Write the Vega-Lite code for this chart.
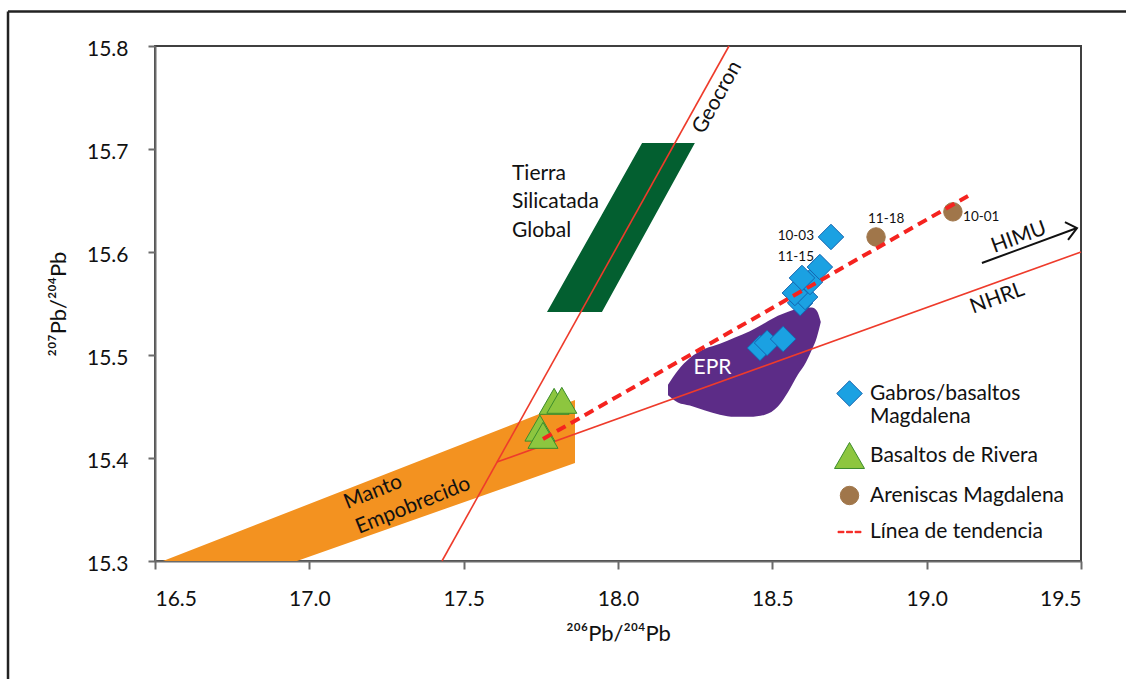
{
  "$schema": "https://vega.github.io/schema/vega-lite/v6.json",
  "width": 926,
  "height": 515,
  "autosize": "none",
  "padding": {"left": 155, "top": 46, "right": 45, "bottom": 118},
  "background": "white",
  "config": {
    "view": {"stroke": "#404040", "strokeWidth": 2},
    "font": "Lato",
    "axis": {
      "grid": false,
      "domainColor": "#6b6b6b",
      "domainWidth": 2,
      "tickColor": "#6b6b6b",
      "tickWidth": 2,
      "labelFont": "Lato",
      "labelFontSize": 21,
      "labelColor": "#111111",
      "titleFont": "Lato",
      "titleFontSize": 22,
      "titleFontWeight": "normal",
      "titleColor": "#111111"
    }
  },
  "datasets": {
    "frame": [
      {"x": 16.0238, "x2": 16.0238, "y": 15.18, "y2": 15.8335},
      {"x": 16.0238, "x2": 19.66, "y": 15.8335, "y2": 15.8335}
    ],
    "dm": [
      {"x": 16.526, "y": 15.3, "y2": 15.3},
      {"x": 16.96, "y": 15.3, "y2": 15.3508},
      {"x": 17.8607, "y": 15.3951, "y2": 15.4563}
    ],
    "bse": [
      {"x": 17.770, "y": 15.5417, "y2": 15.5417},
      {"x": 17.948, "y": 15.5417, "y2": 15.6365},
      {"x": 18.078, "y": 15.6126, "y2": 15.7058},
      {"x": 18.249, "y": 15.7058, "y2": 15.7058}
    ],
    "epr": [
      {"x": 18.162, "y": 15.471, "y2": 15.461},
      {"x": 18.194, "y": 15.485, "y2": 15.454},
      {"x": 18.233, "y": 15.497, "y2": 15.451},
      {"x": 18.282, "y": 15.506, "y2": 15.446},
      {"x": 18.330, "y": 15.511, "y2": 15.442},
      {"x": 18.379, "y": 15.517, "y2": 15.440},
      {"x": 18.427, "y": 15.523, "y2": 15.440},
      {"x": 18.476, "y": 15.531, "y2": 15.442},
      {"x": 18.518, "y": 15.538, "y2": 15.450},
      {"x": 18.551, "y": 15.542, "y2": 15.464},
      {"x": 18.583, "y": 15.545, "y2": 15.481},
      {"x": 18.609, "y": 15.546, "y2": 15.493},
      {"x": 18.628, "y": 15.546, "y2": 15.505},
      {"x": 18.644, "y": 15.543, "y2": 15.517},
      {"x": 18.657, "y": 15.532, "y2": 15.532}
    ],
    "ref": [
      {"line": "Geocron", "x": 17.4298, "y": 15.3},
      {"line": "Geocron", "x": 18.3596, "y": 15.8},
      {"line": "NHRL", "x": 17.608, "y": 15.396},
      {"line": "NHRL", "x": 19.5, "y": 15.6}
    ],
    "trend": [
      {"x": 17.757, "y": 15.4184},
      {"x": 19.134, "y": 15.6544}
    ],
    "arrow": [
      {"part": "shaft", "o": 1, "x": 19.179, "y": 15.5893},
      {"part": "shaft", "o": 2, "x": 19.487, "y": 15.6233},
      {"part": "head", "o": 1, "x": 19.448, "y": 15.6291},
      {"part": "head", "o": 2, "x": 19.487, "y": 15.6233},
      {"part": "head", "o": 3, "x": 19.458, "y": 15.6117}
    ],
    "pts": [
      {"series": "Gabros/basaltos Magdalena", "x": 18.460, "y": 15.5068},
      {"series": "Gabros/basaltos Magdalena", "x": 18.483, "y": 15.5117},
      {"series": "Gabros/basaltos Magdalena", "x": 18.535, "y": 15.5155},
      {"series": "Gabros/basaltos Magdalena", "x": 18.590, "y": 15.5505},
      {"series": "Gabros/basaltos Magdalena", "x": 18.606, "y": 15.5563},
      {"series": "Gabros/basaltos Magdalena", "x": 18.573, "y": 15.5602},
      {"series": "Gabros/basaltos Magdalena", "x": 18.622, "y": 15.5709},
      {"series": "Gabros/basaltos Magdalena", "x": 18.596, "y": 15.5748},
      {"series": "Gabros/basaltos Magdalena", "x": 18.654, "y": 15.5854},
      {"series": "Gabros/basaltos Magdalena", "x": 18.690, "y": 15.6146},
      {"series": "Basaltos de Rivera", "x": 17.793, "y": 15.455},
      {"series": "Basaltos de Rivera", "x": 17.818, "y": 15.456},
      {"series": "Basaltos de Rivera", "x": 17.747, "y": 15.429},
      {"series": "Basaltos de Rivera", "x": 17.757, "y": 15.422},
      {"series": "Areniscas Magdalena", "x": 18.836, "y": 15.6146},
      {"series": "Areniscas Magdalena", "x": 19.085, "y": 15.639}
    ],
    "lblBig": [
      {"label": "Tierra", "x": 17.6566, "y": 15.6762},
      {"label": "Silicatada", "x": 17.6566, "y": 15.649},
      {"label": "Global", "x": 17.6566, "y": 15.6208}
    ],
    "lblEpr": [
      {"label": "EPR", "x": 18.306, "y": 15.4878}
    ],
    "lblR": [
      {"label": "10-03", "x": 18.635, "y": 15.6155},
      {"label": "11-15", "x": 18.635, "y": 15.5951}
    ],
    "lblL": [
      {"label": "11-18", "x": 18.810, "y": 15.632},
      {"label": "10-01", "x": 19.118, "y": 15.634}
    ],
    "lblGeo": [
      {"label": "Geocron", "x": 18.322, "y": 15.75}
    ],
    "lblDm": [
      {"label": "Manto", "x": 17.123, "y": 15.3502},
      {"label": "Empobrecido", "x": 17.161, "y": 15.3262}
    ],
    "lblLines": [
      {"label": "HIMU", "x": 19.299, "y": 15.614},
      {"label": "NHRL", "x": 19.229, "y": 15.5548}
    ]
  },
  "encoding": {
    "x": {
      "field": "x",
      "type": "quantitative",
      "scale": {"domain": [16.5, 19.5], "nice": false, "zero": false},
      "axis": {
        "values": [16.5, 17, 17.5, 18, 18.5, 19, 19.5],
        "format": ".1f",
        "tickSize": 8,
        "labelPadding": 19,
        "titlePadding": 14
      },
      "title": "²⁰⁶Pb/²⁰⁴Pb"
    },
    "y": {
      "field": "y",
      "type": "quantitative",
      "scale": {"domain": [15.3, 15.8], "nice": false, "zero": false},
      "axis": {
        "values": [15.3, 15.4, 15.5, 15.6, 15.7, 15.8],
        "format": ".1f",
        "tickSize": 7,
        "labelPadding": 20,
        "labelOffset": 3,
        "titlePadding": 16
      },
      "title": "²⁰⁷Pb/²⁰⁴Pb"
    }
  },
  "layer": [
    {
      "data": {"name": "frame"},
      "mark": {"type": "rule", "color": "#222222", "strokeWidth": 2.5},
      "encoding": {"x2": {"field": "x2"}, "y2": {"field": "y2"}}
    },
    {
      "data": {"name": "dm"},
      "mark": {"type": "area", "color": "#F39220", "opacity": 1},
      "encoding": {"y2": {"field": "y2"}}
    },
    {
      "data": {"name": "bse"},
      "mark": {"type": "area", "color": "#035F30", "opacity": 1},
      "encoding": {"y2": {"field": "y2"}}
    },
    {
      "data": {"name": "epr"},
      "mark": {"type": "area", "color": "#5C2C87", "opacity": 1, "interpolate": "monotone"},
      "encoding": {"y2": {"field": "y2"}}
    },
    {
      "data": {"name": "ref"},
      "mark": {"type": "line", "color": "#EE3B2B", "strokeWidth": 1.6},
      "encoding": {"detail": {"field": "line", "type": "nominal"}}
    },
    {
      "data": {"name": "arrow"},
      "mark": {"type": "line", "color": "#111111", "strokeWidth": 2},
      "encoding": {
        "detail": {"field": "part", "type": "nominal"},
        "order": {"field": "o", "type": "quantitative"}
      }
    },
    {
      "data": {"name": "pts"},
      "mark": {"type": "point", "filled": true, "opacity": 1, "strokeWidth": 1},
      "encoding": {
        "shape": {
          "field": "series",
          "type": "nominal",
          "scale": {
            "domain": ["Gabros/basaltos Magdalena", "Basaltos de Rivera", "Areniscas Magdalena", "Línea de tendencia"],
            "range": ["diamond", "triangle-up", "circle", "M-1,-0.06H-0.48V0.06H-1ZM-0.26,-0.06H0.26V0.06H-0.26ZM0.48,-0.06H1V0.06H0.48Z"]
          },
          "legend": {
            "orient": "none",
            "legendX": 679,
            "legendY": 334,
            "title": null,
            "padding": 0,
            "labelFont": "Lato",
            "labelFontSize": 21,
            "labelColor": "#111111",
            "labelLimit": 400,
            "labelOffset": 5,
            "rowPadding": 13,
            "symbolStrokeWidth": 1,
            "symbolOpacity": 1,
            "labelExpr": "datum.label == 'Gabros/basaltos Magdalena' ? ['Gabros/basaltos', 'Magdalena'] : datum.label"
          }
        },
        "fill": {
          "field": "series",
          "type": "nominal",
          "scale": {
            "domain": ["Gabros/basaltos Magdalena", "Basaltos de Rivera", "Areniscas Magdalena", "Línea de tendencia"],
            "range": ["#1BA1E2", "#8DC63F", "#A0764A", "#F5231F"]
          }
        },
        "stroke": {
          "field": "series",
          "type": "nominal",
          "scale": {
            "domain": ["Gabros/basaltos Magdalena", "Basaltos de Rivera", "Areniscas Magdalena", "Línea de tendencia"],
            "range": ["#1565B0", "#3C8C2C", "#A0764A", "#F5231F"]
          }
        },
        "size": {
          "field": "series",
          "type": "nominal",
          "scale": {
            "type": "ordinal",
            "domain": ["Gabros/basaltos Magdalena", "Basaltos de Rivera", "Areniscas Magdalena", "Línea de tendencia"],
            "range": [650, 900, 340, 529]
          }
        }
      }
    },
    {
      "data": {"name": "trend"},
      "mark": {"type": "line", "color": "#F5231F", "strokeWidth": 4, "strokeDash": [10, 6], "strokeCap": "butt"},
      "encoding": {}
    },
    {
      "data": {"name": "lblBig"},
      "mark": {"type": "text", "font": "Lato", "fontSize": 21, "align": "left", "baseline": "middle", "color": "#111111"},
      "encoding": {"text": {"field": "label"}}
    },
    {
      "data": {"name": "lblEpr"},
      "mark": {"type": "text", "font": "Lato", "fontSize": 21, "align": "center", "baseline": "middle", "color": "#FFFFFF"},
      "encoding": {"text": {"field": "label"}}
    },
    {
      "data": {"name": "lblR"},
      "mark": {"type": "text", "font": "Lato", "fontSize": 13.5, "align": "right", "baseline": "middle", "color": "#111111"},
      "encoding": {"text": {"field": "label"}}
    },
    {
      "data": {"name": "lblL"},
      "mark": {"type": "text", "font": "Lato", "fontSize": 13.5, "align": "left", "baseline": "middle", "color": "#111111"},
      "encoding": {"text": {"field": "label"}}
    },
    {
      "data": {"name": "lblGeo"},
      "mark": {"type": "text", "font": "Lato", "fontSize": 21, "align": "center", "baseline": "middle", "angle": 299, "color": "#111111"},
      "encoding": {"text": {"field": "label"}}
    },
    {
      "data": {"name": "lblDm"},
      "mark": {"type": "text", "font": "Lato", "fontSize": 21, "align": "left", "baseline": "alphabetic", "angle": 338, "color": "#111111"},
      "encoding": {"text": {"field": "label"}}
    },
    {
      "data": {"name": "lblLines"},
      "mark": {"type": "text", "font": "Lato", "fontSize": 21, "align": "center", "baseline": "middle", "angle": 340, "color": "#111111"},
      "encoding": {"text": {"field": "label"}}
    }
  ]
}
